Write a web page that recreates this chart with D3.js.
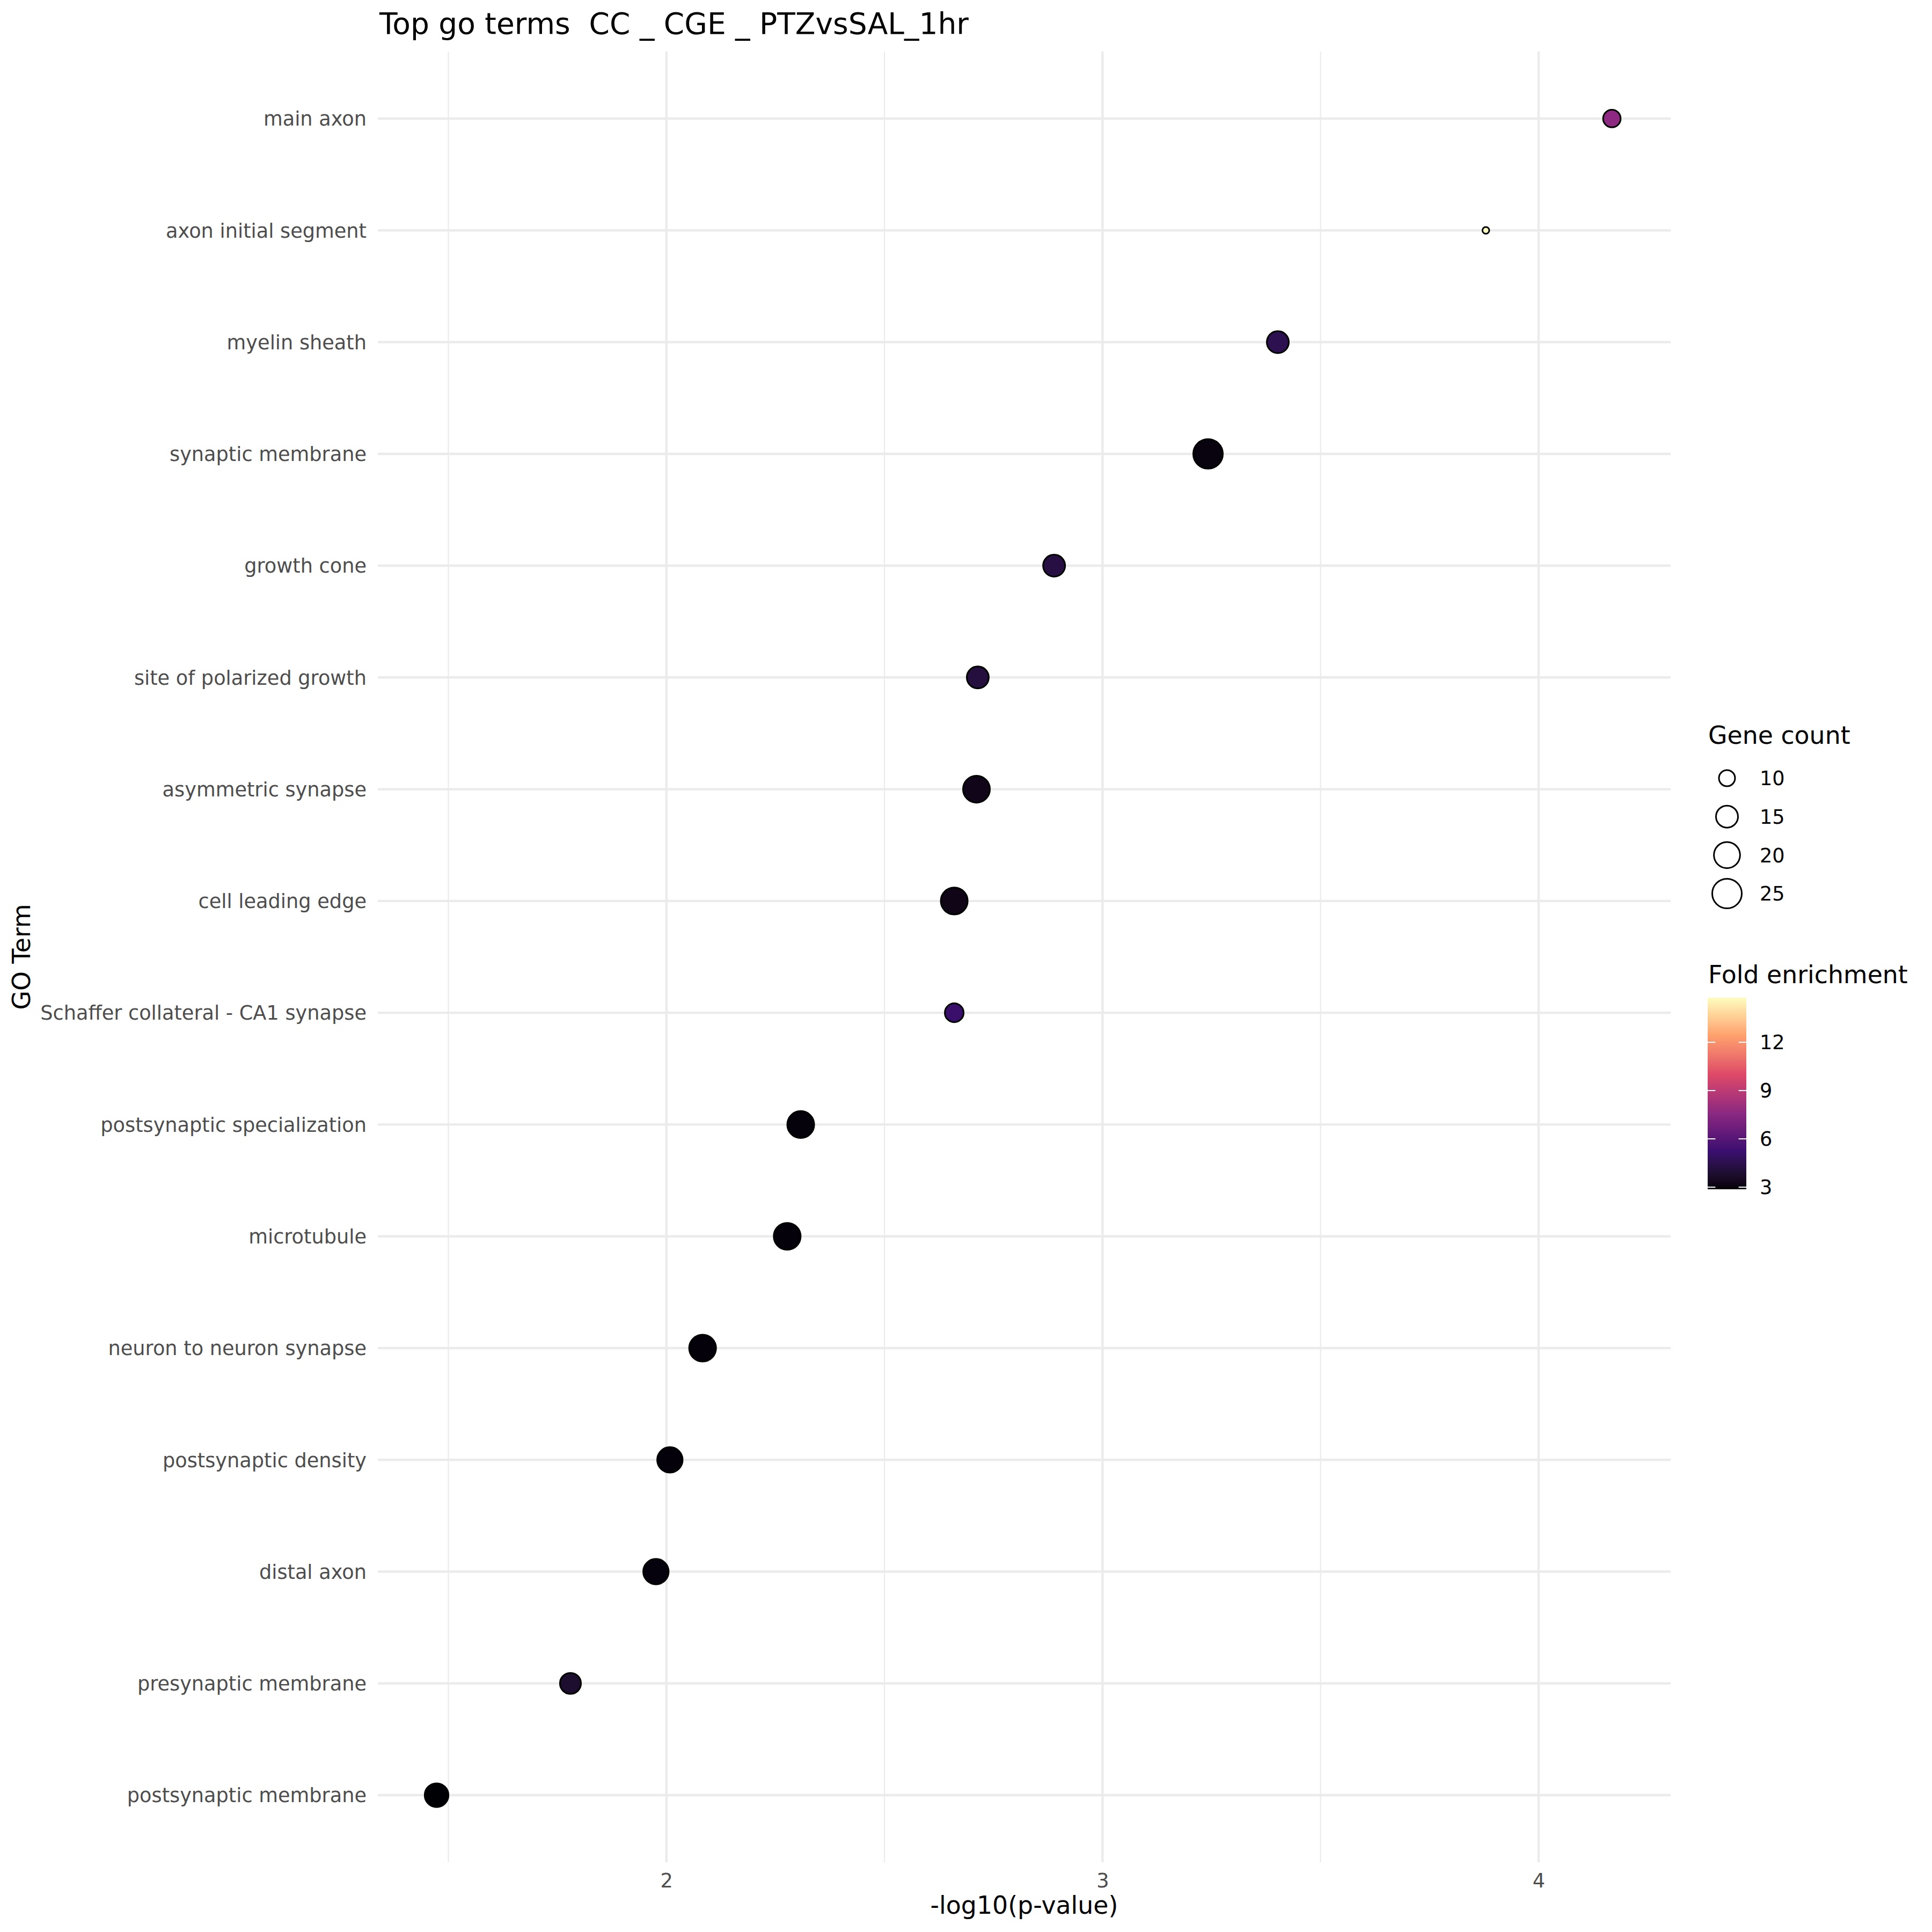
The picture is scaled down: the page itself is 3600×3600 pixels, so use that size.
<!DOCTYPE html>
<html><head><meta charset="utf-8">
<script src="https://cdn.jsdelivr.net/npm/d3@7"></script>
<style>
body{margin:0;background:#fff}
svg text{font-family:"DejaVu Sans",sans-serif}
</style>
</head><body>
<svg id="chart" width="3600" height="3600" xmlns="http://www.w3.org/2000/svg"></svg>
<script>
// ---- data (top row first) ----
const terms = [
  "main axon","axon initial segment","myelin sheath","synaptic membrane","growth cone",
  "site of polarized growth","asymmetric synapse","cell leading edge",
  "Schaffer collateral - CA1 synapse","postsynaptic specialization","microtubule",
  "neuron to neuron synapse","postsynaptic density","distal axon",
  "presynaptic membrane","postsynaptic membrane"
];
const negLog10P = [4.168,3.879,3.402,3.242,2.889,2.714,2.711,2.660,2.660,2.308,2.277,2.083,2.008,1.976,1.780,1.473];
const geneCount = [11,7,15,25,15,15,21,21,12,21,21,21,19,19,14,17];
const foldEnrichment = [7.65,14.77,4.55,3.05,4.3,4.15,3.25,3.2,5.15,2.98,2.95,2.97,2.96,2.99,3.8,2.87];
const xTicks = [2,3,4];
const xMinorTicks = [1.5,2.5,3.5];
const sizeBreaks = [10,15,20,25];
const colorBreaks = [3,6,9,12];
const magma6 = ["#000004","#3B0F70","#8C2981","#DE4968","#FE9F6D","#FCFDBF"];
const titleText = "Top go terms  CC _ CGE _ PTZvsSAL_1hr";
const xTitle = "-log10(p-value)";
const yTitle = "GO Term";
const sizeTitle = "Gene count";
const colorTitle = "Fold enrichment";

// ---- layout ----
const P = {left:704, right:3113, top:96, bottom:3470};
const svg = d3.select("#chart");
svg.append("rect").attr("width",3600).attr("height",3600).attr("fill","#fff");

const [xmin,xmax] = d3.extent(negLog10P);
const xpad = 0.05*(xmax-xmin);
const x = d3.scaleLinear().domain([xmin-xpad,xmax+xpad]).range([P.left,P.right]);
const y = d3.scalePoint().domain(terms).range([P.top,P.bottom]).padding(0.6);

const [cmin,cmax] = d3.extent(geneCount);
const sizeNorm = d3.scaleLinear().domain([cmin,cmax]).range([0,1]);
const sizePal = d3.scaleLinear().domain([0,1]).range([1,6]);
const outerDiam = d3.scaleLinear().domain([1,6]).range([15.7,58.1]);
const strokeW = 3;
const radius = v => outerDiam(sizePal(Math.sqrt(sizeNorm(v))))/2 - strokeW/2;

const [fmin,fmax] = d3.extent(foldEnrichment);
const fill = d3.scaleLinear()
  .domain(magma6.map((c,i)=>fmin + i*(fmax-fmin)/5))
  .range(magma6).interpolate(d3.interpolateLab);

// ---- grid ----
const grid = svg.append("g");
grid.selectAll("line.minor").data(xMinorTicks).join("line")
  .attr("x1",d=>x(d)).attr("x2",d=>x(d)).attr("y1",P.top).attr("y2",P.bottom)
  .attr("stroke","#EBEBEB").attr("stroke-width",2.2);
grid.selectAll("line.majx").data(xTicks).join("line")
  .attr("x1",d=>x(d)).attr("x2",d=>x(d)).attr("y1",P.top).attr("y2",P.bottom)
  .attr("stroke","#EBEBEB").attr("stroke-width",4.4);
grid.selectAll("line.majy").data(terms).join("line")
  .attr("x1",P.left).attr("x2",P.right).attr("y1",d=>y(d)).attr("y2",d=>y(d))
  .attr("stroke","#EBEBEB").attr("stroke-width",4.4);

// ---- axes ----
const xAxis = svg.append("g").attr("transform",`translate(0,${P.bottom})`)
  .call(d3.axisBottom(x).tickValues(xTicks).tickFormat(d3.format("d")).tickSize(0).tickPadding(21));
xAxis.select(".domain").remove();
xAxis.selectAll("text").attr("font-size",36.7).attr("fill","#4D4D4D")
  .attr("font-family","DejaVu Sans");

const yAxis = svg.append("g").attr("transform",`translate(${P.left},0)`)
  .call(d3.axisLeft(y).tickSize(0).tickPadding(21));
yAxis.select(".domain").remove();
yAxis.selectAll("text").attr("font-size",36.7).attr("fill","#4D4D4D")
  .attr("font-family","DejaVu Sans").attr("dy","0.35em");

// ---- points ----
const data = terms.map((t,i)=>({t, x:negLog10P[i], n:geneCount[i], f:foldEnrichment[i]}));
svg.append("g").selectAll("circle").data(data).join("circle")
  .attr("cx",d=>x(d.x)).attr("cy",d=>y(d.t)).attr("r",d=>radius(d.n))
  .attr("fill",d=>fill(d.f)).attr("stroke","#000").attr("stroke-width",strokeW);

// ---- titles ----
svg.append("text").attr("x",707).attr("y",63).attr("font-size",55)
  .style("white-space","pre").attr("xml:space","preserve").text(titleText);
svg.append("text").attr("x",(P.left+P.right)/2).attr("y",3566).attr("font-size",45.8)
  .attr("text-anchor","middle").text(xTitle);
svg.append("text").attr("transform",`translate(56,${(P.top+P.bottom)/2}) rotate(-90)`)
  .attr("font-size",45.8).attr("text-anchor","middle").text(yTitle);

// ---- size legend ----
const lg = svg.append("g");
lg.append("text").attr("x",3183).attr("y",1386).attr("font-size",45.8).text(sizeTitle);
const keyY = d3.scalePoint().domain(sizeBreaks).range([1450,1665]);
lg.selectAll("circle").data(sizeBreaks).join("circle")
  .attr("cx",3218).attr("cy",d=>keyY(d)).attr("r",d=>radius(d))
  .attr("fill","none").attr("stroke","#000").attr("stroke-width",strokeW);
lg.selectAll("text.lab").data(sizeBreaks).join("text").attr("class","lab")
  .attr("x",3279).attr("y",d=>keyY(d)).attr("dy","0.36em").attr("font-size",36.7).text(d=>d);

// ---- colour legend ----
const cb = {x:3182, w:72, top:1859, bottom:2216};
const cy = d3.scaleLinear().domain([fmin,fmax]).range([cb.bottom,cb.top]);
const defs = svg.append("defs");
const grad = defs.append("linearGradient").attr("id","magmaGrad")
  .attr("x1",0).attr("y1",1).attr("x2",0).attr("y2",0);
d3.range(0,1.0001,0.02).forEach(t=>{
  grad.append("stop").attr("offset",t).attr("stop-color",fill(fmin+t*(fmax-fmin)));
});
lg.append("text").attr("x",3183).attr("y",1832).attr("font-size",45.8).text(colorTitle);
lg.append("rect").attr("x",cb.x).attr("y",cb.top).attr("width",cb.w)
  .attr("height",cb.bottom-cb.top).attr("fill","url(#magmaGrad)");
const tickLen = cb.w/5;
lg.selectAll("line.tl").data(colorBreaks).join("line")
  .attr("x1",cb.x).attr("x2",cb.x+tickLen).attr("y1",d=>cy(d)).attr("y2",d=>cy(d))
  .attr("stroke","#fff").attr("stroke-width",2);
lg.selectAll("line.tr").data(colorBreaks).join("line")
  .attr("x1",cb.x+cb.w-tickLen).attr("x2",cb.x+cb.w).attr("y1",d=>cy(d)).attr("y2",d=>cy(d))
  .attr("stroke","#fff").attr("stroke-width",2);
lg.selectAll("text.cl").data(colorBreaks).join("text").attr("class","cl")
  .attr("x",3279).attr("y",d=>cy(d)).attr("dy","0.36em").attr("font-size",36.7).text(d=>d);
</script>
</body></html>
